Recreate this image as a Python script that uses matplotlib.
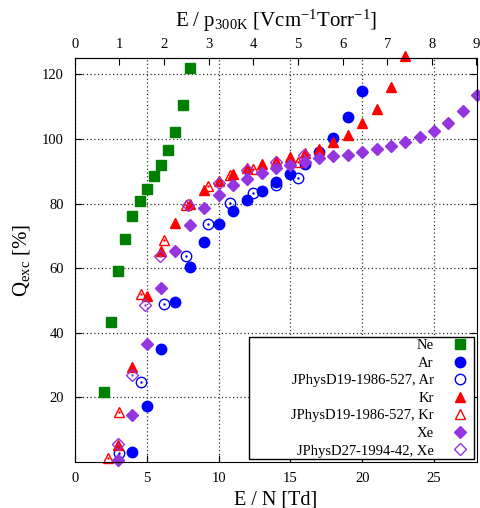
import numpy as np
import matplotlib
matplotlib.use("Agg")
import matplotlib.pyplot as plt
from matplotlib.patches import Rectangle

plt.rcParams['font.family'] = ['Liberation Serif', 'DejaVu Serif']
plt.rcParams['mathtext.fontset'] = 'custom'
plt.rcParams['mathtext.rm'] = 'Liberation Serif'
plt.rcParams['mathtext.it'] = 'Liberation Serif:italic'

# E/N [Td] and Q_exc [%]
ne_x = [2.0, 2.5, 3.0, 3.5, 4.0, 4.5, 5.0, 5.5, 6.0, 6.5, 7.0, 7.5, 8.0]
ne_y = [21.8, 43.4, 59.0, 69.1, 76.1, 80.7, 84.6, 88.4, 91.8, 96.5, 102.0, 110.4, 121.9]

ar_x = [4, 5, 6, 7, 8, 9, 10, 11, 12, 13, 14, 15, 16, 17, 18, 19, 20]
ar_y = [3.1, 17.2, 35.0, 49.5, 60.3, 68.0, 73.6, 77.8, 81.2, 84.0, 86.6, 89.2, 92.1,
        96.0, 100.3, 106.8, 114.8]

ar_ref_x = [3.08, 4.61, 6.17, 7.72, 9.28, 10.82, 12.39, 13.98, 15.5]
ar_ref_y = [2.7, 24.9, 48.9, 63.6, 73.6, 80.3, 83.4, 85.8, 87.9]

kr_x = [3, 4, 5, 6, 7, 8, 9, 10, 11, 12, 13, 14, 15, 16, 17, 18, 19, 20, 21, 22, 23]
kr_y = [5.3, 29.3, 51.3, 65.2, 74.0, 79.7, 84.2, 86.9, 89.2, 90.9, 92.1, 93.1, 94.5,
        95.6, 96.8, 99.0, 101.1, 104.8, 109.4, 116.2, 125.6]

kr_ref_x = [2.29, 3.08, 4.61, 6.17, 7.72, 9.28, 10.82, 12.39, 13.98, 15.5]
kr_ref_y = [1.1, 15.6, 52.0, 68.8, 79.4, 85.3, 88.8, 90.7, 92.6, 92.9]

xe_x = [3, 4, 5, 6, 7, 8, 9, 10, 11, 12, 13, 14, 15, 16, 17, 18, 19, 20, 21, 22, 23,
        24, 25, 26, 27, 28]
xe_y = [0.5, 14.6, 36.5, 53.9, 65.4, 73.2, 78.5, 82.6, 85.6, 87.7, 89.3, 90.9, 92.0,
        93.0, 94.0, 94.6, 95.0, 96.0, 97.0, 97.8, 99.0, 100.6, 102.5, 105.0, 108.5, 113.5]

xe_ref_x = [3.0, 3.98, 4.9, 5.96, 7.9, 10.05, 12.0, 13.98, 15.98]
xe_ref_y = [5.5, 26.8, 48.6, 63.6, 79.4, 86.3, 90.4, 93.0, 95.0]

td_per_vcmtorr = 3.106

green = '#008000'
blue = '#0000ff'
red = '#ff0000'
purple = '#9535e0'

fig = plt.figure(figsize=(4.8, 5.08), dpi=100)
ax = fig.add_axes([0.156, 0.0906, 0.838, 0.795])

ms = 7.5
ax.plot(ne_x, ne_y, 's', color=green, ms=7.5, label='Ne', clip_on=False)
ax.plot(ar_x, ar_y, 'o', color=blue, ms=ms, label='Ar', clip_on=False)
ax.plot(ar_ref_x, ar_ref_y, 'o', mfc='none', mec=blue, mew=1.0, ms=ms,
        label='JPhysD19-1986-527, Ar', clip_on=False)
ax.plot(kr_x, kr_y, '^', color=red, ms=ms, label='Kr', clip_on=False)
ax.plot(kr_ref_x, kr_ref_y, '^', mfc='none', mec=red, mew=1.0, ms=ms,
        label='JPhysD19-1986-527, Kr', clip_on=False)
ax.plot(xe_x, xe_y, 'D', color=purple, ms=6, label='Xe', clip_on=False)
ax.plot(xe_ref_x, xe_ref_y, 'D', mfc='none', mec=purple, mew=1.0, ms=6,
        label='JPhysD27-1994-42, Xe', clip_on=False)
# small centre dots of the open symbols
ax.plot(ar_ref_x, ar_ref_y, '.', color=blue, ms=1.5, clip_on=False)
ax.plot(kr_ref_x, kr_ref_y, '.', color=red, ms=1.5, clip_on=False)
ax.plot(xe_ref_x, xe_ref_y, '.', color=purple, ms=1.5, clip_on=False)

ax.set_xlim(0, 28)
ax.set_ylim(0, 125)
ax.set_xticks([0, 5, 10, 15, 20, 25])
ax.set_yticks([20, 40, 60, 80, 100, 120])
ax.grid(True, linestyle=(0, (1, 2)), color='#333333', linewidth=0.9)
ax.tick_params(direction='in', length=5, labelsize=10.5, right=True)
ax.tick_params(axis='x', pad=7)
ax.tick_params(axis='y', pad=8)

ax.set_xlabel('E / N [Td]', fontsize=14.5, labelpad=4)
ax.set_ylabel(r'Q$_{\rm exc}$ [%]', fontsize=15, labelpad=7)

top = ax.secondary_xaxis('top', functions=(lambda x: x / td_per_vcmtorr,
                                           lambda x: x * td_per_vcmtorr))
top.set_xticks(range(0, 10))
top.tick_params(direction='in', length=5, labelsize=10.5, pad=5)
top.set_xlabel(r'E / p$_{\rm 300K}$ [Vcm$^{-1}$Torr$^{-1}$]', fontsize=15, labelpad=8)

# legend box (gnuplot style, wide on the left)
ax.add_patch(Rectangle((0.433, 0.0074), 0.5595, 0.3016, transform=ax.transAxes,
                       facecolor='white', edgecolor='black', linewidth=1.0,
                       zorder=5, clip_on=False))
leg = ax.legend(loc='lower right', bbox_to_anchor=(0.975, 0.011), markerfirst=False,
                alignment='right', frameon=False, fontsize=10.5, handlelength=1.0,
                handletextpad=1.3, labelspacing=0.3, borderpad=0, borderaxespad=0)
leg.set_zorder(6)

fig.savefig('out.png', dpi=100)
